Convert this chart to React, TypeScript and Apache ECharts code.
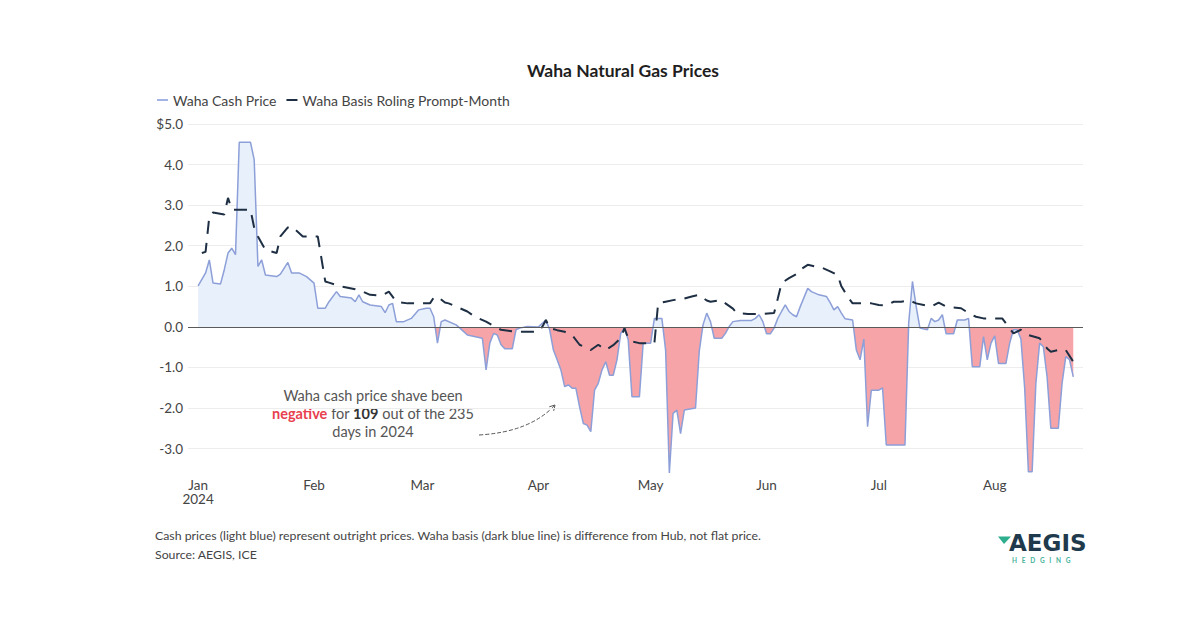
import React, { useEffect, useRef } from 'react';
import * as echarts from 'echarts';

const YEAR = 2024;

const cashDates = [
  '01-01','01-03','01-04','01-05','01-07','01-08','01-09','01-10','01-11','01-12','01-15','01-16','01-17','01-18','01-19',
  '01-22','01-23','01-25','01-26','01-28','01-30','02-01','02-02','02-04','02-05','02-07','02-08','02-11','02-12','02-13',
  '02-14','02-16','02-19','02-20','02-21','02-22','02-23','02-25','02-27','02-29','03-02','03-03','03-04','03-05','03-06',
  '03-07','03-10','03-11','03-13','03-17','03-18','03-19','03-20','03-21','03-22','03-23','03-25','03-26','03-27','03-29',
  '04-01','04-03','04-04','04-05','04-06','04-07','04-08','04-09','04-10','04-11','04-12','04-13','04-14','04-15','04-16',
  '04-17','04-18','04-19','04-20','04-21','04-22','04-23','04-24','04-25','04-26','04-28','04-29','05-01','05-02','05-04',
  '05-05','05-06','05-07','05-08','05-09','05-10','05-13','05-14','05-15','05-16','05-17','05-18','05-20','05-21','05-22',
  '05-23','05-25','05-28','05-29','05-30','05-31','06-01','06-02','06-03','06-04','06-05','06-06','06-07','06-08','06-09',
  '06-10','06-12','06-13','06-15','06-17','06-18','06-19','06-20','06-21','06-22','06-24','06-25','06-26','06-27','06-28',
  '06-29','07-01','07-02','07-03','07-08','07-09','07-10','07-11','07-12','07-14','07-15','07-16','07-17','07-18','07-19',
  '07-21','07-22','07-24','07-25','07-26','07-28','07-29','07-30','07-31','08-01','08-02','08-04','08-05','08-06','08-07',
  '08-08','08-09','08-10','08-11','08-12','08-13','08-14','08-15','08-16','08-18','08-19','08-20','08-21','08-22'
];
const cashPrices = [
  1.01, 1.33, 1.65, 1.08, 1.06, 1.41, 1.82, 1.94, 1.78, 4.55, 4.55, 4.12, 1.49, 1.65, 1.28,
  1.24, 1.30, 1.59, 1.33, 1.33, 1.24, 1.08, 0.46, 0.46, 0.62, 0.87, 0.75, 0.71, 0.62, 0.79,
  0.62, 0.54, 0.50, 0.35, 0.54, 0.58, 0.13, 0.13, 0.21, 0.42, 0.46, 0.46, 0.25, -0.40, 0.13,
  0.17, 0.05, -0.03, -0.20, -0.28, -1.06, -0.40, -0.16, -0.20, -0.44, -0.54, -0.54, -0.07, -0.03, 0.01,
  0.00, 0.17, -0.07, -0.57, -0.81, -1.06, -1.47, -1.43, -1.51, -1.51, -1.97, -2.38, -2.42, -2.58, -1.56,
  -1.39, -1.06, -0.86, -1.19, -1.19, -0.81, -0.16, -0.03, -0.32, -1.72, -1.72, -0.40, -0.40, 0.21, 0.21,
  -0.57, -3.60, -2.13, -2.05, -2.63, -2.05, -2.00, -0.60, 0.05, 0.34, 0.13, -0.28, -0.28, -0.16, 0.01,
  0.13, 0.16, 0.16, 0.21, 0.30, 0.13, -0.17, -0.17, -0.03, 0.21, 0.38, 0.54, 0.38, 0.30, 0.25,
  0.50, 0.95, 0.87, 0.79, 0.75, 0.60, 0.42, 0.50, 0.34, 0.20, 0.17, -0.57, -0.81, -0.30, -2.46,
  -1.56, -1.56, -1.50, -2.91, -2.91, 0.10, 1.12, 0.50, -0.03, -0.07, 0.21, 0.13, 0.17, 0.30, -0.17,
  -0.17, 0.17, 0.17, 0.21, -0.98, -0.98, -0.24, -0.81, -0.40, -0.22, -0.90, -0.90, -0.40, -0.07, -0.07,
  -0.30, -1.50, -3.57, -3.57, -1.39, -0.40, -0.49, -1.23, -2.50, -2.50, -1.39, -0.73, -0.81, -1.23
];

const basisDates = [
  '01-02','01-03','01-04','01-05','01-08','01-09','01-10','01-12','01-15','01-16','01-17','01-19','01-22','01-23','01-25',
  '01-26','01-29','02-02','02-04','02-05','02-08','02-12','02-14','02-16','02-19','02-21','02-23','02-26','03-03','03-04',
  '03-05','03-07','03-08','03-11','03-13','03-15','03-18','03-21','03-22','03-26','04-01','04-02','04-03','04-04','04-06',
  '04-08','04-10','04-12','04-15','04-17','04-19','04-21','04-23','04-24','04-25','04-26','04-28','05-02','05-03','05-05',
  '05-07','05-10','05-12','05-14','05-16','05-17','05-20','05-21','05-23','05-24','05-27','05-31','06-03','06-04','06-05',
  '06-07','06-09','06-10','06-12','06-14','06-16','06-18','06-20','06-21','06-23','06-24','06-29','07-01','07-03','07-05',
  '07-07','07-09','07-11','07-13','07-15','07-17','07-19','07-21','07-23','07-25','07-27','07-29','08-03','08-06','08-08',
  '08-10','08-13','08-15','08-16','08-19','08-20','08-22'
];
const basisPrices = [
  1.82, 1.85, 2.72, 2.82, 2.77, 3.18, 2.89, 2.89, 2.89, 2.44, 2.23, 1.90, 1.82, 2.23, 2.45,
  2.48, 2.23, 2.23, 1.12, 1.09, 1.00, 0.93, 0.87, 0.79, 0.77, 0.87, 0.62, 0.58, 0.58, 0.72,
  0.75, 0.60, 0.58, 0.46, 0.38, 0.25, 0.13, -0.03, -0.07, -0.12, -0.12, 0.00, 0.17, -0.03, -0.08,
  -0.12, -0.20, -0.44, -0.57, -0.44, -0.57, -0.45, -0.28, -0.03, -0.28, -0.36, -0.40, -0.40, 0.58, 0.62,
  0.66, 0.70, 0.75, 0.79, 0.65, 0.62, 0.66, 0.58, 0.45, 0.34, 0.32, 0.32, 0.34, 0.70, 1.08,
  1.20, 1.30, 1.41, 1.53, 1.49, 1.45, 1.37, 1.28, 1.00, 0.70, 0.58, 0.58, 0.54, 0.53, 0.62,
  0.62, 0.66, 0.58, 0.54, 0.50, 0.60, 0.50, 0.48, 0.46, 0.34, 0.25, 0.21, 0.21, -0.16, -0.07,
  -0.20, -0.28, -0.53, -0.61, -0.55, -0.57, -0.86
];

const monthLabels = ['Jan', 'Feb', 'Mar', 'Apr', 'May', 'Jun', 'Jul', 'Aug'];

const FONT = 'Lato, "Noto Sans", sans-serif';
const DAY = 86400000;
const JAN1 = Date.UTC(YEAR, 0, 1);

// day offset from Jan 1 for a "MM-DD" date
function toDay(md: string): number {
  const [m, d] = md.split('-').map(Number);
  return Math.round((Date.UTC(YEAR, m - 1, d) - JAN1) / DAY);
}

export default function App() {
  const ref = useRef<HTMLDivElement>(null);

  useEffect(() => {
    if (!ref.current) return;
    const chart = echarts.init(ref.current, null, { renderer: 'svg' });
    const cashData = cashDates.map((d, i) => [toDay(d), cashPrices[i]]);
    const basisData = basisDates.map((d, i) => [toDay(d), basisPrices[i]]);
    const monthTicks = monthLabels.map((_, i) => Math.round((Date.UTC(YEAR, i, 1) - JAN1) / DAY));

    const option: any = {
      animation: false,
      backgroundColor: '#ffffff',
      textStyle: { fontFamily: FONT },
      title: {
        text: 'Waha Natural Gas Prices',
        left: 522,
        top: 56,
        textStyle: { fontSize: 17.5, fontWeight: 'bold', color: '#1e1e1e', fontFamily: FONT },
      },
      legend: {
        left: 152,
        top: 88,
        icon: 'rect',
        itemWidth: 11,
        itemHeight: 2,
        itemGap: 10,
        textStyle: { fontSize: 14, color: '#444', fontFamily: FONT },
        data: ['Waha Cash Price', 'Waha Basis Roling Prompt-Month'],
      },
      grid: { left: 188, right: 117, top: 124, bottom: 157 },
      xAxis: {
        type: 'value',
        min: -2.7,
        max: 236.6,
        axisLine: { show: false, onZero: false },
        axisTick: { show: false, customValues: monthTicks },
        splitLine: { show: false },
        axisLabel: {
          customValues: monthTicks,
          margin: 5,
          fontSize: 13.5,
          lineHeight: 14,
          color: '#444',
          fontFamily: FONT,
          formatter: (v: number) => {
            const idx = monthTicks.indexOf(Math.round(v));
            if (idx < 0) return '';
            return monthLabels[idx] + (idx === 0 ? '\n' + YEAR : '');
          },
        },
      },
      yAxis: {
        type: 'value',
        min: -3.6,
        max: 5,
        minInterval: 1,
        maxInterval: 1,
        axisLine: { show: false },
        axisTick: { show: false },
        splitLine: { show: true, showMinLine: false, lineStyle: { color: '#ededed', width: 1 } },
        axisLabel: {
          showMinLabel: false,
          margin: 5,
          fontSize: 13.5,
          color: '#444',
          fontFamily: FONT,
          formatter: (v: number) => {
            if (Math.abs(v - Math.round(v)) > 1e-6) return '';
            return v === 5 ? '$5.0' : v.toFixed(1);
          },
        },
      },
      visualMap: {
        type: 'piecewise',
        show: false,
        dimension: 1,
        seriesIndex: 0,
        pieces: [
          { gte: -10, lt: 0, color: '#f6a4a7' },
          { gte: 0, lte: 10, color: '#e7f0fb' },
        ],
        outOfRange: { color: '#e7f0fb' },
      },
      series: [
        {
          type: 'line',
          name: 'cash-area',
          data: cashData,
          symbol: 'none',
          silent: true,
          lineStyle: { width: 0, opacity: 0 },
          areaStyle: { opacity: 1 },
          z: 1,
        },
        {
          type: 'line',
          name: 'Waha Cash Price',
          data: cashData,
          symbol: 'none',
          color: '#a3b4e4',
          lineStyle: { width: 1.5, color: '#8d9fd8' },
          z: 3,
          markLine: {
            silent: true,
            symbol: ['none', 'none'],
            label: { show: false },
            lineStyle: { color: '#5a5a5a', width: 1.2, type: 'solid' },
            data: [{ yAxis: 0 }],
          },
        },
        {
          type: 'line',
          name: 'Waha Basis Roling Prompt-Month',
          data: basisData,
          symbol: 'none',
          color: '#1e2f44',
          lineStyle: { width: 2, type: [13, 9], color: '#1e2f44' },
          z: 4,
        },
      ],
      graphic: [
        {
          type: 'text',
          x: 373,
          y: 386,
          style: {
            text: 'Waha cash price shave been\n{neg|negative} for {b|109} out of the 235\ndays in 2024',
            align: 'center',
            verticalAlign: 'top',
            fontSize: 14.5,
            lineHeight: 18,
            fill: '#555',
            fontFamily: FONT,
            rich: {
              neg: { fontSize: 14.5, fontWeight: 'bold', fill: '#e8404f', fontFamily: FONT, lineHeight: 18 },
              b: { fontSize: 14.5, fontWeight: 'bold', fill: '#333', fontFamily: FONT, lineHeight: 18 },
            },
          },
        },
        {
          type: 'bezierCurve',
          shape: { x1: 479, y1: 435, x2: 555, y2: 405, cpx1: 530, cpy1: 432 },
          style: { stroke: '#555', lineWidth: 1, fill: 'none', lineDash: [4, 2] },
        },
        {
          type: 'polyline',
          shape: { points: [[549.3, 406.8], [555, 405], [553.7, 410.8]] },
          style: { stroke: '#555', lineWidth: 1, fill: 'none' },
        },
        {
          type: 'text',
          x: 155,
          y: 529,
          style: {
            text: 'Cash prices (light blue) represent outright prices. Waha basis (dark blue line) is difference from Hub, not flat price.',
            fontSize: 12.3,
            fill: '#444',
            fontFamily: FONT,
          },
        },
        {
          type: 'text',
          x: 155,
          y: 548,
          style: { text: 'Source: AEGIS, ICE', fontSize: 12.3, fill: '#444', fontFamily: FONT },
        },
        {
          type: 'polygon',
          shape: { points: [[998, 536.5], [1011, 536.5], [1004, 544]] },
          style: { fill: '#2fae8e' },
        },
        {
          type: 'text',
          x: 1009,
          y: 531,
          style: { text: 'AEGIS', fontSize: 23, fontWeight: 'bold', fill: '#1f3a4c', fontFamily: '"DejaVu Sans", sans-serif' },
        },
        {
          type: 'text',
          x: 1012,
          y: 556.5,
          style: { text: 'H   E   D   G   I   N   G', fontSize: 6.5, fontWeight: 'bold', fill: '#49b49c', fontFamily: FONT },
        },
      ],
    };

    chart.setOption(option);
    return () => chart.dispose();
  }, []);

  return (
    <div
      ref={ref}
      style={{ position: 'absolute', left: 0, top: 0, width: 1200, height: 630, background: '#fff' }}
    />
  );
}
